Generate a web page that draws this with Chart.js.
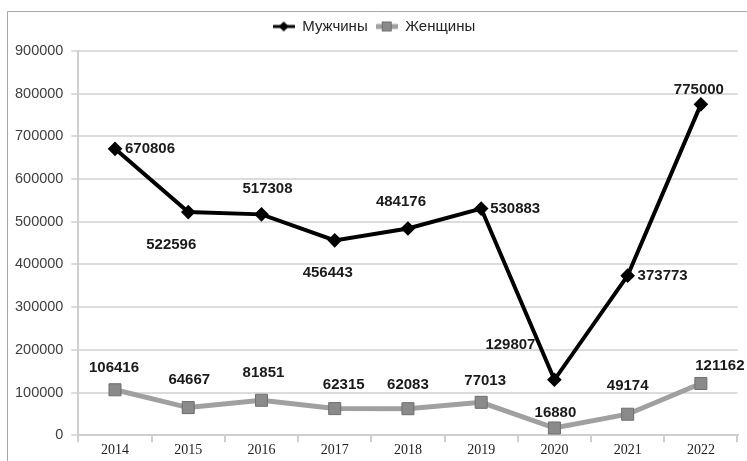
<!DOCTYPE html>
<html>
<head>
<meta charset="utf-8">
<script src="https://cdn.jsdelivr.net/npm/chart.js@4/dist/chart.umd.min.js"></script>
<style>
  html, body { margin: 0; padding: 0; background: #fff; }
</style>
</head>
<body>
<canvas id="myChart" width="747" height="461"></canvas>
<script>
var years = ["2014", "2015", "2016", "2017", "2018", "2019", "2020", "2021", "2022"];
var men = [670806, 522596, 517308, 456443, 484176, 530883, 129807, 373773, 775000];
var women = [106416, 64667, 81851, 62315, 62083, 77013, 16880, 49174, 121162];
var yTicks = [0, 100000, 200000, 300000, 400000, 500000, 600000, 700000, 800000, 900000];

// where each value label sits, relative to its point (px)
var menLabelPos = [[35, 0], [-17, 33], [6, -26], [-7, 33], [-7, -27], [34, 0], [-44, -35], [35, 0], [-2, -15]];
var womenLabelPos = [[-1, -22], [1, -28], [2, -27], [9, -24], [0, -24], [4, -21], [1, -15], [0, -28], [19, -18]];

function legendIcon(kind) {
    var c = document.createElement('canvas');
    c.width = 22; c.height = 14;
    var g = c.getContext('2d');
    if (kind == 'men') {
        g.strokeStyle = '#000'; g.lineWidth = 3;
        g.beginPath(); g.moveTo(0, 7); g.lineTo(22, 7); g.stroke();
        g.fillStyle = '#000';
        g.beginPath(); g.moveTo(11, 2); g.lineTo(16, 7); g.lineTo(11, 12); g.lineTo(6, 7); g.closePath(); g.fill();
    } else {
        g.strokeStyle = '#a0a0a0'; g.lineWidth = 5;
        g.beginPath(); g.moveTo(0, 7); g.lineTo(22, 7); g.stroke();
        g.fillStyle = '#8a8a8a'; g.strokeStyle = '#6e6e6e'; g.lineWidth = 1;
        g.fillRect(6.5, 2.5, 9, 9); g.strokeRect(6.5, 2.5, 9, 9);
    }
    return c;
}

var frame = {
    id: 'frame',
    beforeInit: function(chart) {
        // extra gap under the legend
        var fit = chart.legend.fit;
        chart.legend.fit = function() {
            fit.bind(chart.legend)();
            this.height += 7;
        };
    },
    beforeDraw: function(chart) {
        var ctx = chart.ctx;
        ctx.save();
        ctx.strokeStyle = '#a6a6a6';
        ctx.lineWidth = 1;
        ctx.beginPath();
        ctx.moveTo(7.5, 461); ctx.lineTo(7.5, 11.5); ctx.lineTo(747, 11.5);
        ctx.stroke();
        ctx.restore();
    }
};

var valueLabels = {
    id: 'valueLabels',
    afterDatasetsDraw: function(chart) {
        var ctx = chart.ctx;
        ctx.save();
        ctx.font = 'bold 15px "Liberation Sans", Arial, sans-serif';
        ctx.fillStyle = '#1a1a1a';
        ctx.textAlign = 'center';
        ctx.textBaseline = 'middle';
        chart.data.datasets.forEach(function(ds, i) {
            var meta = chart.getDatasetMeta(i);
            var pos = i == 0 ? menLabelPos : womenLabelPos;
            meta.data.forEach(function(pt, j) {
                ctx.fillText(String(ds.data[j]), pt.x + pos[j][0], pt.y + pos[j][1]);
            });
        });
        ctx.restore();
    }
};

var ctx = document.getElementById('myChart');
var myChart = new Chart(ctx, {
    type: 'line',
    data: {
        labels: years,
        datasets: [{
            label: 'Мужчины',
            data: men,
            borderColor: '#000',
            backgroundColor: '#000',
            borderWidth: 4,
            pointStyle: 'rectRot',
            pointRadius: 4.5,
            pointBackgroundColor: '#000',
            pointBorderColor: '#000',
            tension: 0
        }, {
            label: 'Женщины',
            data: women,
            borderColor: '#a0a0a0',
            backgroundColor: '#8a8a8a',
            borderWidth: 5,
            pointStyle: 'rect',
            pointRadius: 8.5,
            pointBackgroundColor: '#8a8a8a',
            pointBorderColor: '#6e6e6e',
            pointBorderWidth: 1,
            tension: 0
        }]
    },
    options: {
        responsive: false,
        animation: false,
        layout: { padding: { top: 11, left: 7, right: 6, bottom: 2 } },
        plugins: {
            legend: {
                position: 'top',
                labels: {
                    usePointStyle: true,
                    pointStyleWidth: 22,
                    padding: 8,
                    color: '#222',
                    font: { family: '"Liberation Sans", Arial, sans-serif', size: 15 },
                    generateLabels: function(chart) {
                        return chart.data.datasets.map(function(ds, i) {
                            return {
                                text: ds.label,
                                pointStyle: legendIcon(i == 0 ? 'men' : 'women'),
                                fontColor: '#222',
                                datasetIndex: i,
                                hidden: false,
                                lineWidth: 0
                            };
                        });
                    }
                }
            },
            tooltip: { enabled: false }
        },
        scales: {
            x: {
                offset: true,
                grid: { offset: true, drawOnChartArea: false, drawTicks: true, tickLength: 7, color: '#cfcfcf', lineWidth: 2 },
                border: { color: '#cfcfcf', width: 2 },
                ticks: {
                    color: '#222',
                    padding: 0,
                    font: { family: '"Liberation Serif", "Times New Roman", serif', size: 14 }
                }
            },
            y: {
                min: 0,
                max: 900000,
                afterBuildTicks: function(axis) {
                    axis.ticks = yTicks.map(function(v) { return { value: v }; });
                },
                grid: { color: '#dcdcdc', lineWidth: 2, tickLength: 7 },
                border: { color: '#cfcfcf', width: 2 },
                ticks: {
                    color: '#404040',
                    padding: 8,
                    font: { family: '"Liberation Sans", Arial, sans-serif', size: 14.5 },
                    callback: function(v) { return String(v); }
                }
            }
        }
    },
    plugins: [frame, valueLabels]
});
</script>
</body>
</html>
